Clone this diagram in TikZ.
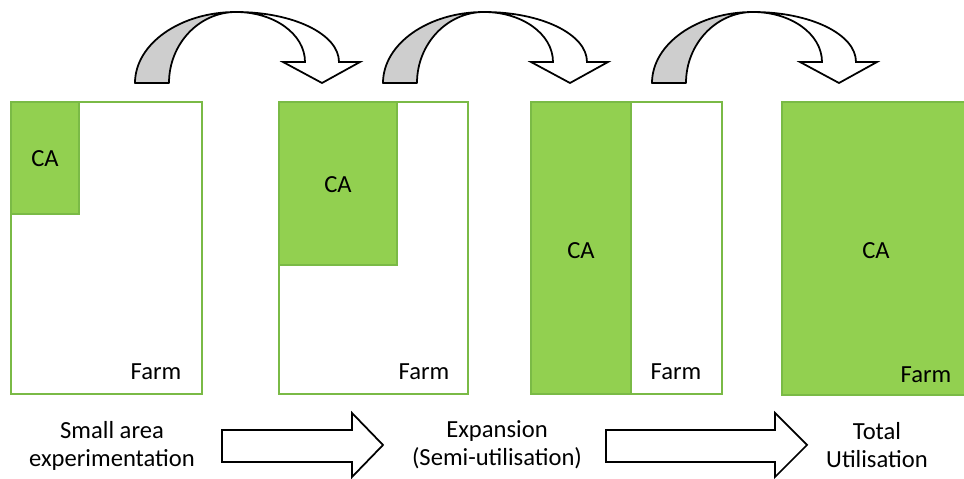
\documentclass[tikz,border=0pt]{standalone}
\usepackage{fontspec}
\setmainfont{Carlito}
\usetikzlibrary{positioning}
\definecolor{cagreen}{RGB}{146,208,80}
\definecolor{caline}{RGB}{122,186,70}
\definecolor{bandgray}{RGB}{206,206,206}

\begin{document}
\begin{tikzpicture}[x=0.02cm, y=-0.02cm,
    every node/.style={font=\fontsize{14}{16}\selectfont, inner sep=0pt},
    farmbox/.style={draw=caline, line width=1.3pt, fill=white},
    caarea/.style={draw=caline, line width=1.3pt, fill=cagreen},
    bandback/.style={draw=black, line width=1pt, line join=round, fill=bandgray},
    bandfront/.style={draw=black, line width=1pt, line join=miter, fill=white},
    blockarrow/.style={draw=black, line width=1pt, line join=miter, fill=white}]
        \useasboundingbox (0,0) rectangle (964,479);

        % farms
        \draw[farmbox] (11,102) rectangle (202,394);
        \draw[caarea] (11,102) rectangle (79,214);
        \draw[farmbox] (279,102) rectangle (468,394);
        \draw[caarea] (279,102) rectangle (397,265);
        \draw[farmbox] (531,102) rectangle (722,394);
        \draw[caarea] (531,102) rectangle (631,394);
        \draw[caarea] (782,102) rectangle (966,395);

        \node (ca1) at (45,159) {CA};
        \node (ca2) at (338,185) {CA};
        \node (ca3) at (581,251) {CA};
        \node (ca4) at (876,251) {CA};
        \node (farm1) at (156,372) {Farm};
        \node (farm2) at (424,372) {Farm};
        \node (farm3) at (676,372) {Farm};
        \node (farm4) at (926,375) {Farm};

        % curved arrows on top
        \begin{scope}[shift={(135,0)}]
        \draw[bandback] (0,83) .. controls (0,44) and (45,12) .. (101,12)
            .. controls (64,12) and (34,44) .. (34,83) -- cycle;
        \draw[bandfront] (170,62) -- (148,62) -- (187,83) -- (225,62) -- (204,62)
            .. controls (204,34) and (158,12) .. (101,12)
            .. controls (139,12) and (170,34) .. (170,62) -- cycle;
        \end{scope}
        \begin{scope}[shift={(383,0)}]
        \draw[bandback] (0,83) .. controls (0,44) and (45,12) .. (101,12)
            .. controls (64,12) and (34,44) .. (34,83) -- cycle;
        \draw[bandfront] (170,62) -- (148,62) -- (187,83) -- (225,62) -- (204,62)
            .. controls (204,34) and (158,12) .. (101,12)
            .. controls (139,12) and (170,34) .. (170,62) -- cycle;
        \end{scope}
        \begin{scope}[shift={(652,0)}]
        \draw[bandback] (0,83) .. controls (0,44) and (45,12) .. (101,12)
            .. controls (64,12) and (34,44) .. (34,83) -- cycle;
        \draw[bandfront] (170,62) -- (148,62) -- (187,83) -- (225,62) -- (204,62)
            .. controls (204,34) and (158,12) .. (101,12)
            .. controls (139,12) and (170,34) .. (170,62) -- cycle;
        \end{scope}

        % stages
        \node[align=center] (small) at (112,446) {Small area\\experimentation};
        \node[align=center] (expansion) at (497,445) {Expansion\\(Semi-utilisation)};
        \node[align=center] (total) at (877,445) {Total\\Utilisation};

        \draw[blockarrow] (222,430) -- (352,430) -- (352,413) -- (383,445)
            -- (352,477) -- (352,462) -- (222,462) -- cycle;
        \draw[blockarrow] (606,430) -- (775,430) -- (775,413) -- (807,445)
            -- (775,477) -- (775,462) -- (606,462) -- cycle;
\end{tikzpicture}
\end{document}
